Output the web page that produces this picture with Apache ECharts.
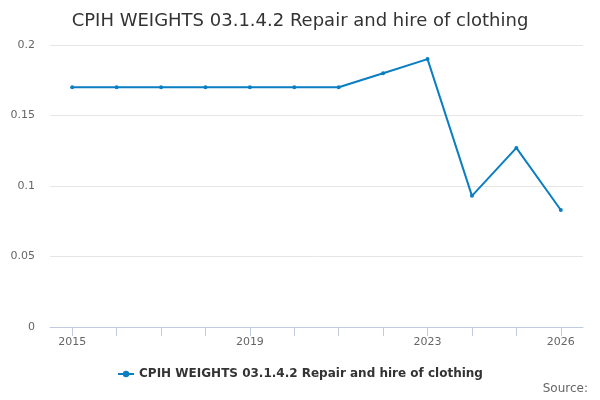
<!DOCTYPE html>
<html><head><meta charset="utf-8">
<script src="https://cdn.jsdelivr.net/npm/echarts@6/dist/echarts.min.js"></script>
<style>html,body{margin:0;padding:0;background:#fff}#c{width:600px;height:400px}</style>
</head><body><div id="c"></div>
<script>
const titleText = "CPIH WEIGHTS 03.1.4.2 Repair and hire of clothing";
const seriesName = "CPIH WEIGHTS 03.1.4.2 Repair and hire of clothing";
const categories = ["2015","2016","2017","2018","2019","2020","2021","2022","2023","2024","2025","2026"];
const values = [0.17,0.17,0.17,0.17,0.17,0.17,0.17,0.18,0.19,0.093,0.127,0.083];
const shownLabels = [0,4,8,11];
const yTicks = {min:0, max:0.2, interval:0.05};
const font = "DejaVu Sans";
const chart = echarts.init(document.getElementById('c'), null, {renderer:'canvas'});
chart.setOption({
  animation:false,
  textStyle:{fontFamily:font},
  title:{text:titleText,left:'center',top:7,textStyle:{fontFamily:font,fontSize:18,fontWeight:'normal',color:'#333'}},
  graphic:[{type:'text',right:12,top:383,style:{text:'Source:',fontFamily:font,fontSize:12,fill:'#666'}}],
  legend:{bottom:15,left:'center',itemWidth:16,itemHeight:8,itemGap:5,
    textStyle:{fontFamily:font,fontSize:12,fontWeight:'bold',color:'#333'},data:[seriesName]},
  grid:{left:50,right:17,top:45,bottom:73,containLabel:false},
  xAxis:{type:'category',data:categories,boundaryGap:true,
    axisLine:{show:true,lineStyle:{color:'#c0cbe0'}},
    axisTick:{show:true,alignWithLabel:true,interval:0,length:9,lineStyle:{color:'#c0cbe0'}},
    axisLabel:{interval:(i)=>shownLabels.includes(i),color:'#666',fontSize:11,fontFamily:font,margin:10}},
  yAxis:{type:'value',min:yTicks.min,max:yTicks.max,interval:yTicks.interval,
    axisLabel:{color:'#666',fontSize:11,fontFamily:font,margin:15},
    splitLine:{lineStyle:{color:'#e6e6e6'}},axisLine:{show:false},axisTick:{show:false}},
  series:[{name:seriesName,type:'line',data:values,color:'#0a7ec2',
    lineStyle:{width:2,color:'#0a7ec2'},symbol:'circle',symbolSize:4,showSymbol:true,
    itemStyle:{color:'#0a7ec2'}}]
});
</script></body></html>
